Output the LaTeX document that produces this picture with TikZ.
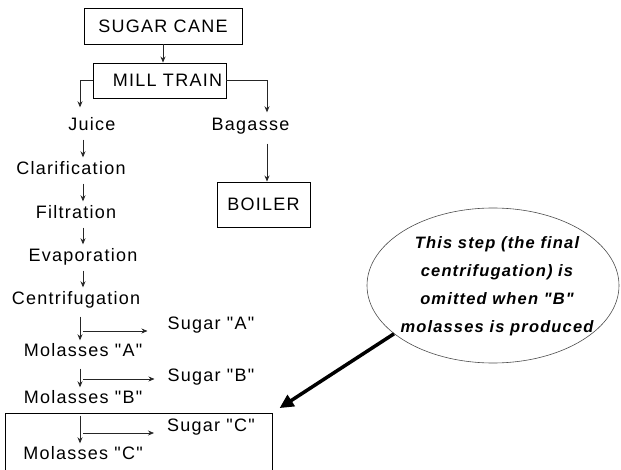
\documentclass[tikz,border=0pt]{standalone}
\usepackage{fontspec}
\setmainfont{Liberation Sans}[LetterSpace=7, Ligatures=TeXOff]
\usepackage{tikz}
\usetikzlibrary{positioning,arrows.meta,calc,shapes.geometric}

\begin{document}
\begin{tikzpicture}[x=1pt, y=-1pt, font=\fontsize{18}{21}\selectfont,
  box/.style={draw=black, line width=0.9pt, inner sep=0pt, text height=13pt, text depth=0pt},
  lbl/.style={inner sep=1pt, text height=13pt, text depth=0pt},
  flow/.style={-{Stealth[length=6pt,width=5pt]}, line width=0.7pt, black!85}]
\useasboundingbox (0,0) rectangle (621,470);
\node[box, minimum width=158pt, minimum height=36pt] (cane) at (163,26) {SUGAR CANE};
\node[box, minimum width=133pt, minimum height=35pt] (mill) at (159.5,80.5) {\hspace*{16pt}MILL TRAIN};
\node[lbl] (juice) at (92,124) {Juice};
\node[lbl] (bag) at (250.5,124) {Bagasse};
\node[box, minimum width=93pt, minimum height=45pt] (boiler) at (263.5,204.5) {BOILER};
\node[lbl] (clar) at (71,168) {Clarification};
\node[lbl] (filt) at (76,212) {Filtration};
\node[lbl] (evap) at (83,255) {Evaporation};
\node[lbl] (cent) at (76,298) {Centrifugation};
\node[lbl] (sugA) at (211,323) {Sugar "A"};
\node[lbl] (molA) at (83,350) {Molasses "A"};
\node[lbl] (sugB) at (211,375) {Sugar "B"};
\node[lbl] (molB) at (83,397) {Molasses "B"};
\node[lbl] (sugC) at (211,425) {Sugar "C"};
\node[lbl] (molC) at (83,453) {Molasses "C"};
\coordinate (colA) at (83,0);
\coordinate (colB) at (80,0);
\coordinate (colR) at (267,0);
% mill train and its two outputs
\draw[flow] (cane.south) -- (cane.south |- mill.north);
\draw[flow, shorten >=9pt] (mill.west) -| (colB |- juice.north);
\draw[flow, shorten >=4pt] (mill.east) -| (colR |- bag.north);
\draw[flow, shorten <=12pt] (colR |- bag.south) -- (colR |- boiler.north);
% juice line
\foreach \a/\b in {juice/clar, clar/filt, filt/evap, evap/cent}
  \draw[flow, shorten <=8pt, shorten >=3pt] (colA |- \a.south) -- (colA |- \b.north);
\foreach \a/\b in {cent/molA, molA/molB, molB/molC}
  \draw[flow, shorten <=11pt, shorten >=2pt] (colB |- \a.south) -- (colB |- \b.north);
\foreach \s/\dx/\dy in {sugA/19/8, sugB/12/4, sugC/12/8}
  \draw[flow] ($(colB |- \s.west)+(3,\dy)$) -- ($(\s.west)+(-\dx,\dy)$);
% last centrifugation
\draw[line width=0.9pt] (5,472) |- (272,413) coordinate (frameNE) -- (272,472);
\node[ellipse, draw=black!70, line width=0.6pt, minimum width=252pt, minimum height=155pt, inner sep=0pt] (note) at (493,285.5) {};
\node[align=center, inner sep=0pt, font=\fontsize{16.5}{28}\selectfont\bfseries\itshape] (notetext) at (497,286) {This step (the final\\ centrifugation) is\\ omitted when "B"\\ molasses is produced};
\draw[line width=3.5pt, -{Triangle[length=14pt,width=13pt]}, shorten >=9pt] (note.206) -- (frameNE);
\end{tikzpicture}
\end{document}
